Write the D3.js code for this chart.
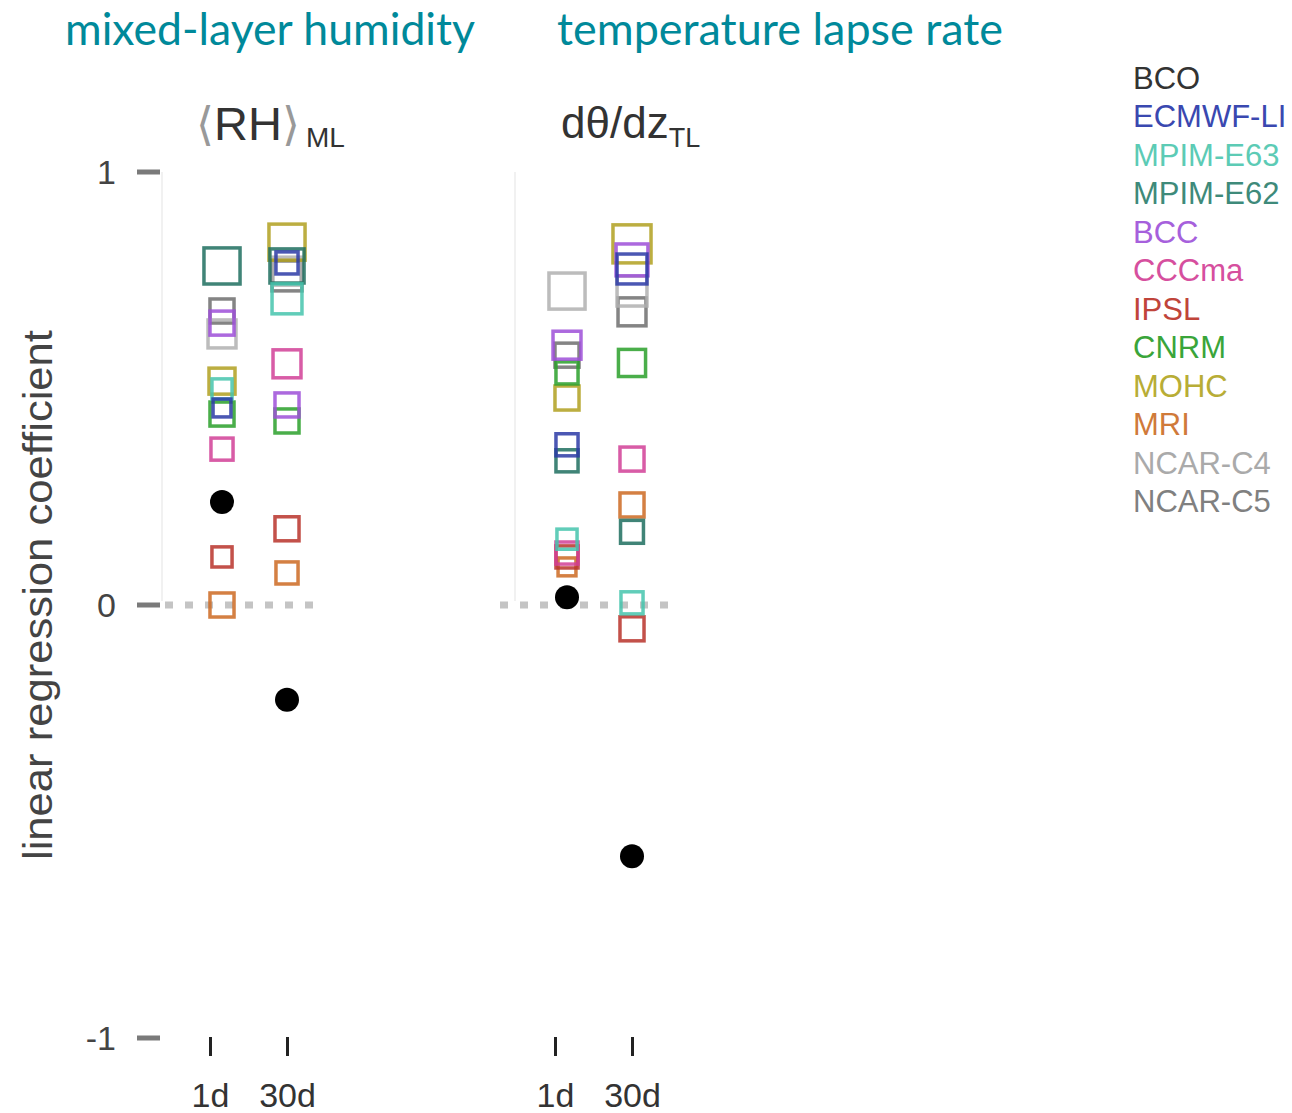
<!DOCTYPE html>
<html><head><meta charset="utf-8">
<script src="https://cdn.jsdelivr.net/npm/d3@7"></script>
<style>body{margin:0;background:#fff}svg{display:block}</style>
</head><body>
<svg id="c" width="1292" height="1113"></svg>
<script>
// ---- data ----
const models = ["BCO","ECMWF-LI","MPIM-E63","MPIM-E62","BCC","CCCma","IPSL","CNRM","MOHC","MRI","NCAR-C4","NCAR-C5"];
const timescales = ["1d","30d"];
const yTicks = [-1, 0, 1];
// regression coefficients per model (order as models)
const rh_1d     = [0.238, 0.455, 0.499, 0.783, 0.651, 0.360, 0.111, 0.441, 0.517, 0.000, 0.626, 0.679];
const rh_30d    = [-0.219, 0.790, 0.707, 0.783, 0.462, 0.557, 0.176, 0.425, 0.838, 0.074, 0.771, 0.760];
const lapse_1d  = [0.018, 0.370, 0.152, 0.333, 0.600, 0.120, 0.111, 0.536, 0.478, 0.088, 0.725, 0.577];
const lapse_30d = [-0.580, 0.776, 0.005, 0.169, 0.797, 0.337, -0.055, 0.559, 0.834, 0.231, 0.725, 0.677];
// marker weight (explained variance), drives square size
const rh_1d_w     = [1, 0.21, 0.29, 0.86, 0.43, 0.36, 0.29, 0.43, 0.50, 0.43, 0.57, 0.43];
const rh_30d_w    = [1, 0.36, 0.64, 0.79, 0.43, 0.57, 0.43, 0.43, 0.86, 0.36, 0.57, 0.64];
const lapse_1d_w  = [1, 0.36, 0.29, 0.36, 0.57, 0.36, 0.36, 0.36, 0.43, 0.21, 0.86, 0.43];
const lapse_30d_w = [1, 0.64, 0.36, 0.39, 0.71, 0.43, 0.43, 0.54, 0.93, 0.43, 0.64, 0.57];

const markerColor = ["#000000","#2b3aa6","#45c4ad","#1f6e5f","#9d4fd8","#d13f97","#b8322a","#2aa02a","#b0a020","#cc6a22","#b0b0b0","#6e6e6e"];
const legendColor = ["#333333","#3a48b0","#5ccbb5","#3e8a7a","#a660dc","#d64f9e","#c0443a","#3aa53a","#b8ad36","#d07a3a","#aaaaaa","#808080"];

const panels = [
  {title:"mixed-layer humidity", vals:{"1d":rh_1d,"30d":rh_30d}, w:{"1d":rh_1d_w,"30d":rh_30d_w}, range:[210,287], titleX:65, titleW:410, zero:[165,313], vline:162},
  {title:"temperature lapse rate", vals:{"1d":lapse_1d,"30d":lapse_30d}, w:{"1d":lapse_1d_w,"30d":lapse_30d_w}, range:[555,632], titleX:557, titleW:446, zero:[500,672], vline:515}
];

// ---- drawing ----
const svg = d3.select("#c");
const y = d3.scaleLinear().domain([-1,1]).range([1038,172]);
const side = d3.scaleLinear().domain([0,1]).range([12,40]);
const font = "'Liberation Sans', Arial, sans-serif";

// y axis label
svg.append("text").attr("transform","translate(52,595) rotate(-90)")
  .attr("text-anchor","middle").attr("font-family",font).attr("font-size",41)
  .attr("textLength",530).attr("lengthAdjust","spacingAndGlyphs")
  .attr("fill","#444").text("linear regression coefficient");

// y axis
const yAxis = d3.axisLeft(y).tickValues(yTicks).tickFormat(d=>String(d)).tickSize(0).tickPadding(0);
const ya = svg.append("g").attr("transform","translate(116,0)").call(yAxis);
ya.select(".domain").remove();
ya.selectAll("text").attr("font-family",font).attr("font-size",34).attr("fill","#444").attr("dy","0.35em");
svg.selectAll("rect.ytick").data(yTicks).join("rect").attr("class","ytick")
  .attr("x",137).attr("width",23).attr("y",d=>y(d)-2.5).attr("height",5).attr("fill","#7a7a7a");

panels.forEach((p,pi)=>{
  const x = d3.scalePoint().domain(timescales).range(p.range);
  const off = {"1d":12,"30d":0};
  const g = svg.append("g");
  // title
  svg.append("text").attr("x",p.titleX).attr("y",45).attr("font-family","Lato, 'Open Sans', sans-serif")
    .attr("font-size",45).attr("textLength",p.titleW).attr("lengthAdjust","spacingAndGlyphs")
    .attr("fill","#00899a").text(p.title);
  // faint panel line
  g.append("line").attr("x1",p.vline).attr("x2",p.vline).attr("y1",y(1)).attr("y2",y(0)-4)
    .attr("stroke","#f1f1f1").attr("stroke-width",2);
  // zero line
  g.append("line").attr("x1",p.zero[0]).attr("x2",p.zero[1]).attr("y1",y(0)).attr("y2",y(0))
    .attr("stroke","#c4c4c4").attr("stroke-width",7).attr("stroke-dasharray","8,12");
  // x axis
  const xAxis = d3.axisBottom(x).tickSize(19).tickPadding(27);
  const xa = g.append("g").attr("transform","translate(0,1037)").call(xAxis);
  xa.select(".domain").remove();
  xa.selectAll("line").attr("stroke","#222").attr("stroke-width",3);
  xa.selectAll("text").attr("font-family",font).attr("font-size",34).attr("fill","#333");
  // markers
  timescales.forEach(t=>{
    const vals = p.vals[t], ws = p.w[t];
    const idx = d3.range(models.length).filter(i=>i>0).reverse();
    g.selectAll(null).data(idx).join("rect")
      .attr("x",i=>x(t)+off[t]-side(ws[i])/2).attr("y",i=>y(vals[i])-side(ws[i])/2)
      .attr("width",i=>side(ws[i])).attr("height",i=>side(ws[i]))
      .attr("fill","none").attr("stroke",i=>markerColor[i]).attr("stroke-width",3.5).attr("stroke-opacity",0.85);
    g.append("circle").attr("cx",x(t)+off[t]).attr("cy",y(vals[0])).attr("r",12).attr("fill","#000");
  });
});

// subtitles
const s1 = svg.append("text").attr("x",196).attr("y",140).attr("font-family",font).attr("font-size",47);
s1.append("tspan").attr("fill","#999").attr("font-size",46).text("\u27E8");
s1.append("tspan").attr("fill","#333").text("RH");
s1.append("tspan").attr("fill","#999").attr("font-size",46).text("\u27E9");
s1.append("tspan").attr("fill","#333").attr("font-size",28).attr("dx",6).attr("dy",7).text("ML");
const s2 = svg.append("text").attr("x",561).attr("y",138).attr("font-family",font).attr("font-size",44);
s2.append("tspan").attr("fill","#333").text("d\u03B8/dz");
s2.append("tspan").attr("fill","#333").attr("font-size",27).attr("dy",9).text("TL");

// legend
svg.selectAll("text.leg").data(models).join("text").attr("class","leg")
  .attr("x",1133).attr("y",(d,i)=>78+i*38.5).attr("dy","0.35em")
  .attr("font-family",font).attr("font-size",31).attr("fill",(d,i)=>legendColor[i]).text(d=>d);
</script>
</body></html>
